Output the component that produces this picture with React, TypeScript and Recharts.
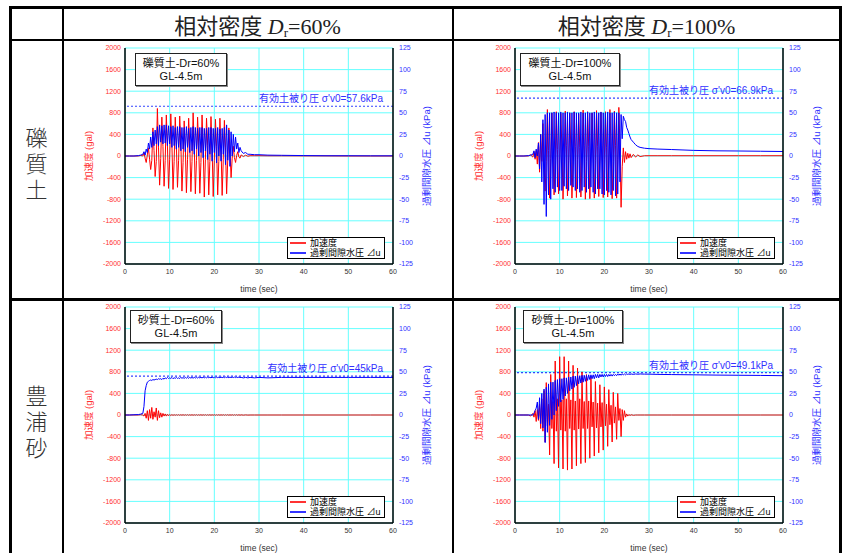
import React from 'react';
import { LineChart, Line, XAxis, YAxis, CartesianGrid, ReferenceLine, Legend } from 'recharts';

// time (sec) sampling shared by all four records
const times = [
  0, 1, 2, 3, 3.5,
  4, 4.25, 4.5, 4.75, 5, 5.25, 5.5, 5.75, 6, 6.25, 6.5, 6.75, 7, 7.25, 7.5, 7.75,
  8, 8.25, 8.5, 8.75, 9, 9.25, 9.5, 9.75, 10, 10.25, 10.5, 10.75, 11, 11.25, 11.5, 11.75,
  12, 12.25, 12.5, 12.75, 13, 13.25, 13.5, 13.75, 14, 14.25, 14.5, 14.75, 15, 15.25, 15.5, 15.75,
  16, 16.25, 16.5, 16.75, 17, 17.25, 17.5, 17.75, 18, 18.25, 18.5, 18.75, 19, 19.25, 19.5, 19.75,
  20, 20.25, 20.5, 20.75, 21, 21.25, 21.5, 21.75, 22, 22.25, 22.5, 22.75, 23, 23.25, 23.5, 23.75,
  24, 24.25, 24.5, 24.75, 25, 25.25, 25.5, 25.75,
  26, 26.5, 27, 27.5, 28, 29, 30, 32, 35, 40, 45, 50, 55, 60,
];

// 礫質土 Dr=60%
const accGravel60 = [
  0, 0, 0, 0, 10,
  0, 60, -40, -120, 20, 150, -60, -250, -80, 520, 100, -380, -100, 880, 150, -540,
  -50, 720, 180, -560, -80, 760, 200, -600, -60, 780, 220, -620, -100, 720, 200, -580,
  -80, 740, 250, -650, -120, 650, 180, -680, -60, 700, 200, -660, -100, 800, 230, -700,
  -80, 720, 200, -690, -120, 760, 180, -760, -60, 700, 200, -720, -100, 730, 150, -750,
  -80, 680, 170, -720, -100, 700, 160, -730, -60, 660, 150, -700, -80, 520, 100, -400,
  -40, 180, -30, -120, 10, 80, -20, -40,
  20, -10, 15, -5, 5, 5, 5, 3, 3, 2, 2, 0, 0, 0,
];
const pwpGravel60 = [
  0, 0, 0, 0.5, 1,
  2, 5, 1, 8, 4, 15, 8, 22, 10, 28, 12, 30, 14, 34, 12, 36,
  16, 35, 14, 36, 15, 36, 12, 35, 14, 34, 10, 35, 12, 33, 8, 34,
  10, 34, 6, 33, 8, 33, 5, 34, 10, 32, 4, 33, 6, 34, 2, 33,
  8, 32, 0, 33, 4, 33, -2, 32, 6, 32, -4, 33, 2, 33, -6, 32,
  4, 32, -8, 33, 0, 31, -6, 32, 2, 33, -10, 36, -5, 30, -12, 28,
  0, 25, 5, 22, 8, 15, 4, 10,
  6, 3, 4, 2, 2, 1.5, 1.5, 1, 0.8, 0.5, 0.3, 0.3, 0.2, 0.2,
];

// 礫質土 Dr=100%
const accGravel100 = [
  0, 0, 0, 0, 20,
  -20, 80, -60, 100, -150, 250, -300, 400, -100, 600, -150, -650, -100, 860, 100, -780,
  -50, 800, 150, -720, -80, 820, 120, -700, -60, 790, 150, -800, -100, 830, 200, -740,
  -80, 800, 150, -780, -100, 820, 180, -770, -60, 780, 160, -760, -80, 850, 200, -800,
  -100, 820, 180, -790, -60, 800, 150, -780, -80, 840, 170, -750, -100, 810, 200, -770,
  -60, 820, 150, -760, -80, 860, 170, -790, -100, 830, 200, -780, -60, 900, 150, -950,
  -200, 150, -120, 80, -60, 50, -40, 40,
  -30, 30, -20, 20, -10, 5, 5, 5, 5, 5, 5, 5, 5, 5,
];
const pwpGravel100 = [
  0, 0, 0, 0.5, 1,
  2, 6, -2, 8, 0, 15, -15, 25, -30, 42, -56, 48, -70, 50, -45, 50,
  -50, 50, -38, 51, -42, 50, -36, 50, -40, 51, -40, 50, -35, 50, -38, 51,
  -40, 50, -34, 50, -36, 51, -40, 50, -38, 50, -42, 51, -40, 50, -36, 50,
  -42, 51, -38, 50, -36, 50, -42, 51, -44, 50, -38, 50, -38, 51, -44, 50,
  -45, 50, -40, 51, -42, 50, -45, 50, -40, 51, -46, 50, -44, 50, -30, 48,
  20, 46, 42, 40, 33, 30, 26, 22,
  19, 16, 13, 11, 10, 9, 8.5, 8, 7.5, 6.5, 6, 5.8, 5.5, 5.2,
];

// 豊浦砂 Dr=60%
const accToyoura60 = [
  0, 0, 0, 0, 5,
  0, -20, 30, -60, 80, -100, 100, -60, 140, -80, 60, -40, 130, -100, 80, -50,
  40, -40, 30, -20, 20, -20, 15, -15, 10, -10, 8, -8, 6, -6, 5, -5,
  6, -6, 5, -5, 6, -6, 5, -5, 6, -6, 5, -5, 6, -6, 5, -5,
  6, -6, 5, -5, 6, -6, 5, -5, 6, -6, 5, -5, 6, -6, 5, -5,
  6, -6, 5, -5, 6, -6, 5, -5, 6, -6, 5, -5, 6, -6, 5, -5,
  6, -6, 5, -5, 6, -6, 5, -5,
  3, -3, 2, -2, 0, 0, 0, 0, 0, 0, 0, 0, 0, 0,
];
const pwpToyoura60 = [
  0, 0, 0.3, 0.5, 1,
  2, 10, 28, 34, 38, 39, 40, 40.5, 40, 41, 40.5, 41, 41.5, 41, 42, 41.5,
  42, 41, 42.5, 41.5, 43, 42, 43.5, 42.2, 43, 42.3, 43.4, 42, 43.2, 42.4, 43.5, 42.3,
  43, 42.2, 43.6, 42.5, 43.3, 42.4, 43.5, 42.6, 43.4, 42.5, 43.6, 42.7, 43.5, 42.6, 43.7, 42.8,
  43.6, 42.8, 43.7, 42.9, 43.6, 42.9, 43.8, 43, 43.7, 43, 43.8, 43.1, 43.7, 43, 43.8, 43.1,
  43.7, 43.1, 43.8, 43.2, 43.7, 43.1, 43.9, 43.2, 43.8, 43.2, 43.9, 43.3, 43.8, 43.2, 43.9, 43.3,
  43.8, 43.3, 43.9, 43.3, 43.8, 43.3, 43.9, 43.4,
  43.5, 43, 43.5, 43, 43.5, 43, 43.5, 43, 43.5, 43.5, 43.5, 43.5, 43.5, 43.5,
];

// 豊浦砂 Dr=100%
const accToyoura100 = [
  0, 0, 0, 0, -20,
  30, -40, 80, -120, 100, -100, 200, -250, 300, -300, 450, -500, 600, -200, 200, -740,
  750, -250, 250, -900, 1000, -300, 300, -980, 1080, -280, 280, -1000, 1080, -300, 300, -1020,
  1000, -250, 280, -1000, 920, -280, 260, -940, 870, -260, 300, -900, 800, -250, 250, -880,
  750, -250, 260, -800, 700, -220, 240, -760, 620, -240, 220, -700, 560, -220, 230, -650,
  520, -200, 200, -580, 470, -180, 180, -500, 420, -150, 150, -450, 400, -100, 120, -400,
  100, -100, 80, -40, 20, -20, 10, -10,
  5, -5, 0, 0, 0, 0, 0, 0, 0, 0, 0, 0, 0, 0,
];
const pwpToyoura100 = [
  0, 0, 0, 0, 0,
  0, 2, 5, 8, 15, -5, 20, -10, 25, -15, 30, -32, 32, -20, 36, -12,
  38, -5, 38, 0, 40, 5, 41, 10, 42, 15, 42, 18, 43, 22, 43, 25,
  44, 28, 44, 30, 45, 32, 45, 34, 45.5, 36, 45.5, 37, 46, 38, 46, 39,
  46, 40, 46.5, 41, 46.5, 42, 46.5, 42, 47, 43, 47, 43, 47, 44, 47, 44,
  47, 44.5, 47, 44.5, 47, 45, 47, 45, 47, 45.5, 47, 45.5, 47.5, 46, 47.5, 46,
  47.5, 46.5, 47.5, 46.5, 47.5, 47, 47.5, 47,
  47.5, 47, 47.5, 47.2, 47.5, 47.3, 47.3, 47, 46.8, 46.5, 46.2, 46, 45.8, 45.5,
];

// effective overburden pressure σ'v0 (kPa)
const sigmaValues = [57.6, 66.9, 45, 49.1];
const sigmaLabels = ["有効土被り圧 σ'v0=57.6kPa", "有効土被り圧 σ'v0=66.9kPa", "有効土被り圧 σ'v0=45kPa", "有効土被り圧 σ'v0=49.1kPa"];
const panelTitles = ['礫質土-Dr=60%', '礫質土-Dr=100%', '砂質土-Dr=60%', '砂質土-Dr=100%'];
const depthLabel = 'GL-4.5m';
const headerValues = ['60%', '100%'];
const rowLabels = ['礫質土', '豊浦砂'];
const seriesNames = ['加速度', '過剰間隙水圧 ⊿u'];

// tick labels
const xTicks = [0, 10, 20, 30, 40, 50, 60];
const accTicks = [-2000, -1600, -1200, -800, -400, 0, 400, 800, 1200, 1600, 2000];
const kpaTicks = [-125, -100, -75, -50, -25, 0, 25, 50, 75, 100, 125];
const xMinor: number[] = [];
for (let v = 0; v <= 60; v += 2) xMinor.push(v);
const accMinor: number[] = [];
for (let v = -2000; v <= 2000; v += 100) accMinor.push(v);
const kpaMinor: number[] = [];
for (let v = -125; v <= 125; v += 5) kpaMinor.push(v);

const SANS = "'Liberation Sans', Arial, 'Noto Sans CJK JP', sans-serif";
const SERIF = "'Liberation Serif', 'Times New Roman', 'Noto Sans CJK JP', serif";
const RED_TXT = '#ff3030';
const BLUE_TXT = '#3030ff';

const W = 408;
const H = 254;

const SigmaLabel = (props: any) => {
  const vb = props.viewBox || {};
  return (
    <text x={vb.x + vb.width - 10} y={vb.y - 4} textAnchor="end" fill={BLUE_TXT} fontSize={10} fontFamily={SANS}>
      {props.text}
    </text>
  );
};

const LegendBox = (props: any) => {
  const payload = props.payload || [];
  return (
    <div style={{ border: '1px solid #000', background: '#fff', width: 96, height: 20, fontSize: 9, fontFamily: SANS, color: '#000', lineHeight: '10px' }}>
      {payload.map((e: any) => (
        <div key={e.value} style={{ display: 'flex', alignItems: 'center', height: 10 }}>
          <svg width={22} height={10} style={{ display: 'block' }}>
            <line x1={2} y1={5} x2={18} y2={5} stroke={e.color} strokeWidth={1.6} />
          </svg>
          <span style={{ whiteSpace: 'nowrap' }}>{e.value}</span>
        </div>
      ))}
    </div>
  );
};

type PanelProps = {
  left: number; top: number; acc: number[]; pwp: number[]; sigma: number; sigmaText: string;
  title: string; boxLeft: number; boxTop: number; boxWidth: number;
};

function Panel({ left, top, acc, pwp, sigma, sigmaText, title, boxLeft, boxTop, boxWidth }: PanelProps) {
  const accData = times.map((t, i) => ({ t, acc: acc[i] }));
  const pwpData = times.map((t, i) => ({ t, pwp: pwp[i] }));
  const minorTickStyle = { stroke: '#000', strokeWidth: 1 };
  return (
    <div style={{ position: 'absolute', left, top, width: W, height: H }}>
      <LineChart width={W} height={H} margin={{ top: 8, right: 0, bottom: 0, left: 0 }}>
        <CartesianGrid xAxisId="x" yAxisId="acc" stroke="#66ffff" strokeWidth={1} />
        <XAxis xAxisId="x" dataKey="t" type="number" domain={[0, 60]} ticks={xTicks} interval={0} allowDataOverflow
          height={30} tickLine={false} tickSize={0} tickMargin={5} axisLine={{ stroke: '#000', strokeWidth: 1.5 }}
          tick={{ fontSize: 7, fill: '#333', fontFamily: SANS }}
          label={{ value: 'time (sec)', position: 'insideBottom', offset: 2, fontSize: 8.5, fill: '#333', fontFamily: SANS }} />
        <XAxis xAxisId="xb2" type="number" domain={[0, 60]} ticks={xMinor} interval={0} allowDataOverflow mirror height={0}
          axisLine={false} tick={false} tickSize={2} tickLine={minorTickStyle} />
        <XAxis xAxisId="xb4" type="number" domain={[0, 60]} ticks={xTicks} interval={0} allowDataOverflow mirror height={0}
          axisLine={false} tick={false} tickSize={4} tickLine={minorTickStyle} />
        <XAxis xAxisId="xt2" orientation="top" type="number" domain={[0, 60]} ticks={xMinor} interval={0} allowDataOverflow mirror height={0}
          axisLine={{ stroke: '#000', strokeWidth: 1.5 }} tick={false} tickSize={2} tickLine={minorTickStyle} />
        <XAxis xAxisId="xt4" orientation="top" type="number" domain={[0, 60]} ticks={xTicks} interval={0} allowDataOverflow mirror height={0}
          axisLine={false} tick={false} tickSize={4} tickLine={minorTickStyle} />
        <YAxis yAxisId="acc" type="number" domain={[-2000, 2000]} ticks={accTicks} interval={0} allowDataOverflow width={72}
          tickLine={false} tickSize={0} tickMargin={4} axisLine={{ stroke: '#000', strokeWidth: 1.5 }}
          tick={{ fontSize: 7, fill: RED_TXT, fontFamily: SANS }}
          label={{ value: '加速度 (gal)', angle: -90, position: 'center', fill: RED_TXT, fontSize: 9.5, fontFamily: SANS }} />
        <YAxis yAxisId="yl2" type="number" domain={[-2000, 2000]} ticks={accMinor} interval={0} allowDataOverflow mirror width={0}
          axisLine={false} tick={false} tickSize={2} tickLine={minorTickStyle} />
        <YAxis yAxisId="yl4" type="number" domain={[-2000, 2000]} ticks={accTicks} interval={0} allowDataOverflow mirror width={0}
          axisLine={false} tick={false} tickSize={4} tickLine={minorTickStyle} />
        <YAxis yAxisId="kpa" orientation="right" type="number" domain={[-125, 125]} ticks={kpaTicks} interval={0} allowDataOverflow width={68}
          tickLine={false} tickSize={0} tickMargin={6} axisLine={{ stroke: '#000', strokeWidth: 1.5 }}
          tick={{ fontSize: 7, fill: BLUE_TXT, fontFamily: SANS }}
          label={{ value: '過剰間隙水圧 ⊿u (kPa)', angle: -90, position: 'center', fill: BLUE_TXT, fontSize: 9.5, fontFamily: SANS }} />
        <YAxis yAxisId="yr2" orientation="right" type="number" domain={[-125, 125]} ticks={kpaMinor} interval={0} allowDataOverflow mirror width={0}
          axisLine={false} tick={false} tickSize={2} tickLine={minorTickStyle} />
        <YAxis yAxisId="yr4" orientation="right" type="number" domain={[-125, 125]} ticks={kpaTicks} interval={0} allowDataOverflow mirror width={0}
          axisLine={false} tick={false} tickSize={4} tickLine={minorTickStyle} />
        <ReferenceLine xAxisId="x" yAxisId="kpa" y={sigma} stroke="#3344ff" strokeWidth={1.2} strokeDasharray="2 2"
          label={<SigmaLabel text={sigmaText} />} />
        <Line data={accData} dataKey="acc" name={seriesNames[0]} xAxisId="x" yAxisId="acc" type="linear"
          stroke="#ff0000" strokeWidth={1} dot={false} activeDot={false} isAnimationActive={false} />
        <Line data={pwpData} dataKey="pwp" name={seriesNames[1]} xAxisId="x" yAxisId="kpa" type="linear"
          stroke="#0000ff" strokeWidth={1} dot={false} activeDot={false} isAnimationActive={false} />
        <Legend layout="vertical" align="center" verticalAlign="middle" content={<LegendBox />}
          wrapperStyle={{ left: 234, top: 197, width: 98, height: 22, right: 'auto', bottom: 'auto' }} />
      </LineChart>
      <div style={{
        position: 'absolute', left: boxLeft, top: boxTop, width: boxWidth, height: 33, boxSizing: 'border-box',
        border: '1.5px solid #222', boxShadow: '1px 1px 0 #888', background: '#fff',
        fontFamily: SANS, fontSize: 11, color: '#111', textAlign: 'center', lineHeight: '13px', paddingTop: 3,
      }}>
        <div>{title}</div>
        <div>{depthLabel}</div>
      </div>
    </div>
  );
}

const hLine = (top: number, left: number, width: number, thick: number) => (
  <div style={{ position: 'absolute', top, left, width, height: thick, background: '#000' }} />
);
const vLine = (left: number, top: number, height: number, thick: number) => (
  <div style={{ position: 'absolute', top, left, width: thick, height, background: '#000' }} />
);

export default function App() {
  return (
    <div style={{ position: 'absolute', left: 0, top: 0, width: 849, height: 553, overflow: 'hidden', background: '#fff' }}>
      {hLine(6, 9, 833, 2.5)}
      {hLine(39, 9, 833, 2)}
      {hLine(298, 9, 833, 2.5)}
      {vLine(9, 6, 560, 3)}
      {vLine(61.5, 6, 560, 2.2)}
      {vLine(452, 6, 560, 2.2)}
      {vLine(839, 6, 560, 2.5)}

      {headerValues.map((v, i) => (
        <div key={v} style={{
          position: 'absolute', left: i === 0 ? 63 : 454, width: i === 0 ? 389 : 385, top: 8, height: 31,
          display: 'flex', alignItems: 'center', justifyContent: 'center',
          fontFamily: SERIF, fontSize: 22, color: '#222', whiteSpace: 'nowrap',
        }}>
          <span>相対密度 <i>D</i><span style={{ fontSize: 13, position: 'relative', top: 3 }}>r</span>={v}</span>
        </div>
      ))}

      {rowLabels.map((label, r) => (
        <div key={label} style={{
          position: 'absolute', left: 12, width: 49, top: r === 0 ? 127 : 385,
          display: 'flex', justifyContent: 'center',
        }}>
          <span style={{
            writingMode: 'vertical-rl', fontFamily: "'Noto Sans CJK JP', sans-serif", fontWeight: 300,
            fontSize: 22, lineHeight: 1, letterSpacing: '4px', color: '#333',
          }}>{label}</span>
        </div>
      ))}

      <Panel left={53} top={40} acc={accGravel60} pwp={pwpGravel60} sigma={sigmaValues[0]} sigmaText={sigmaLabels[0]}
        title={panelTitles[0]} boxLeft={82} boxTop={13} boxWidth={92} />
      <Panel left={443} top={40} acc={accGravel100} pwp={pwpGravel100} sigma={sigmaValues[1]} sigmaText={sigmaLabels[1]}
        title={panelTitles[1]} boxLeft={77} boxTop={13} boxWidth={100} />
      <Panel left={53} top={299} acc={accToyoura60} pwp={pwpToyoura60} sigma={sigmaValues[2]} sigmaText={sigmaLabels[2]}
        title={panelTitles[2]} boxLeft={77} boxTop={11} boxWidth={92} />
      <Panel left={443} top={299} acc={accToyoura100} pwp={pwpToyoura100} sigma={sigmaValues[3]} sigmaText={sigmaLabels[3]}
        title={panelTitles[3]} boxLeft={80} boxTop={11} boxWidth={100} />
    </div>
  );
}
